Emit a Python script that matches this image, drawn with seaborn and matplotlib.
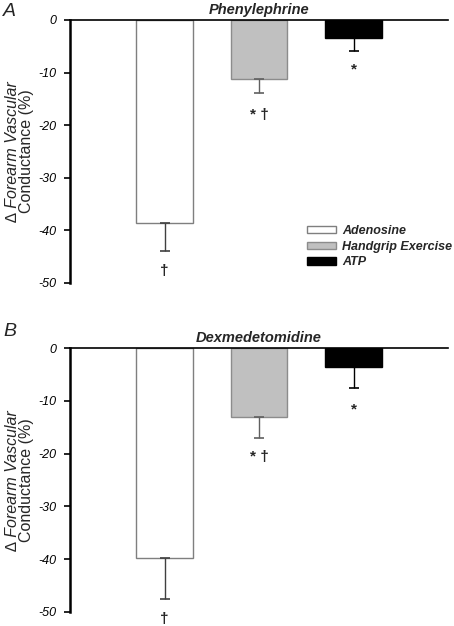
import matplotlib
matplotlib.use("Agg")
import matplotlib.pyplot as plt
import seaborn as sns
import pandas as pd
from matplotlib.patches import Patch

categories = ["Adenosine", "Handgrip Exercise", "ATP"]
phen_values = [-38.5, -11.2, -3.4]
phen_err = [5.4, 2.7, 2.4]
dex_values = [-39.8, -13.1, -3.6]
dex_err = [7.7, 3.9, 4.0]
phen_marks = ["†", "* †", "*"]
dex_marks = ["†", "* †", "*"]
yticks = [0, -10, -20, -30, -40, -50]

fills = ["#ffffff", "#c0c0c0", "#000000"]
edges = ["#7f7f7f", "#8c8c8c", "#000000"]
errcols = ["#404040", "#606060", "#000000"]

sns.set_theme(style="white")
plt.rcParams['font.family'] = ['Liberation Sans', 'DejaVu Sans']

fig = plt.figure(figsize=(4.54, 6.26), dpi=100)
axA = fig.add_axes([70/454, 1-283/626, 378/454, 263/626])
axB = fig.add_axes([70/454, 1-612/626, 378/454, 264/626])


def draw(ax, vals, errs, marks, mark_y, title):
    df = pd.DataFrame({"cond": categories, "val": vals})
    sns.barplot(data=df, x="cond", y="val", hue="cond", order=categories,
                hue_order=categories, palette=fills, width=0.6, dodge=False,
                legend=False, ax=ax, errorbar=None, linewidth=1.0)
    for p, ec in zip(ax.patches, edges):
        p.set_edgecolor(ec)
    for i, (v, e) in enumerate(zip(vals, errs)):
        ax.errorbar(i, v, yerr=[[e], [0]], fmt="none", ecolor=errcols[i],
                    elinewidth=1.0, capsize=3.6, capthick=1.2, zorder=3)
        ax.text(i, mark_y[i], marks[i], ha="center", va="center",
                fontsize=11, fontweight="bold", clip_on=False)
    ax.set_xlim(-1, 3)
    ax.set_ylim(-50, 0)
    ax.set_yticks(yticks)
    ax.set_yticklabels([str(t) for t in yticks], fontstyle="italic",
                       fontsize=9)
    ax.tick_params(axis="y", direction="out", length=4, width=1.2, pad=6,
                   left=True, colors="black")
    ax.tick_params(axis="x", bottom=False, labelbottom=False)
    ax.set_xlabel("")
    ax.set_ylabel("")
    for s in ["right", "bottom"]:
        ax.spines[s].set_visible(False)
    ax.spines["top"].set_visible(True)
    ax.spines["left"].set_visible(True)
    ax.spines["top"].set_color("black")
    ax.spines["left"].set_color("black")
    ax.spines["top"].set_linewidth(1.2)
    ax.spines["left"].set_linewidth(1.8)
    ax.set_title(title, fontsize=10.5, fontweight="bold", fontstyle="italic",
                 pad=4)
    ax.text(-0.151, 0.498, "∆ Forearm Vascular", transform=ax.transAxes,
            rotation=90, ha="center", va="center", fontsize=11.5,
            fontstyle="italic")
    ax.text(-0.114, 0.50, "Conductance (%)", transform=ax.transAxes,
            rotation=90, ha="center", va="center", fontsize=11.5)


draw(axA, phen_values, phen_err, phen_marks, [-47.8, -18.0, -9.4],
     "Phenylephrine")
draw(axB, dex_values, dex_err, dex_marks, [-51.3, -20.6, -11.7],
     "Dexmedetomidine")

fig.text(3/454, 1-16/626, "A", fontsize=14, fontstyle="italic",
         ha="left", va="baseline")
fig.text(3/454, 1-336/626, "B", fontsize=14, fontstyle="italic",
         ha="left", va="baseline")

handles = [Patch(facecolor=f, edgecolor=e, linewidth=1.0) for f, e in zip(fills, edges)]
leg = fig.legend(handles, categories, loc="upper left",
                 bbox_to_anchor=(307/454, 1-225/626), frameon=False,
                 prop={"size": 9, "style": "italic", "weight": "bold"},
                 handlelength=2.3, handleheight=0.5, labelspacing=0.3,
                 handletextpad=0.5, borderpad=0, borderaxespad=0)

fig.savefig("out.png", dpi=100)
